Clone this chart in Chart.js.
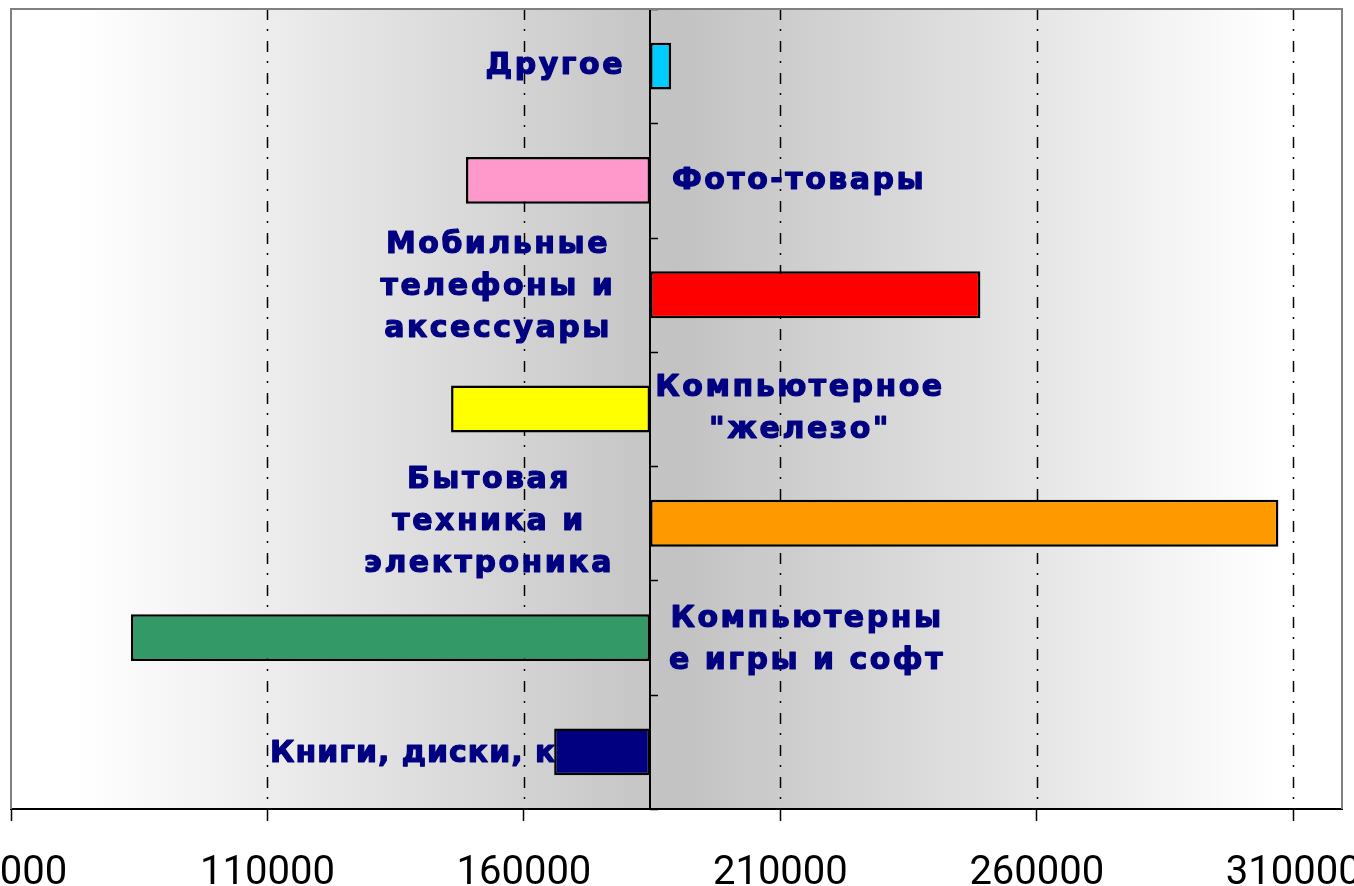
<!DOCTYPE html>
<html>
<head>
<meta charset="utf-8">
<script src="https://cdn.jsdelivr.net/npm/chart.js@4/dist/chart.umd.min.js"></script>
<style>
  html, body { margin: 0; padding: 0; background: #ffffff; overflow: hidden; width: 1354px; height: 886px; }
  #wrap { position: absolute; left: -100px; top: 0; width: 1554px; height: 936px; }
</style>
</head>
<body>
<div id="wrap"><canvas id="c" width="1554" height="936"></canvas></div>
<script>
// ---- data ----
const categories = ['Другое', 'Фото-товары', 'Мобильные телефоны и аксессуары', 'Компьютерное "железо"', 'Бытовая техника и электроника', 'Компьютерные игры и софт', 'Книги, диски, кино'];
const baseValue = 184600;
const values = [188700, 148700, 249000, 145800, 307100, 83400, 165900];
const barColors = ['#00ccff', '#ff99cc', '#ff0000', '#ffff00', '#ff9900', '#339966', '#000080'];
const labelLines = [
  ['Другое'],
  ['Фото-товары'],
  ['Мобильные', 'телефоны и', 'аксессуары'],
  ['Компьютерное', '"железо"'],
  ['Бытовая', 'техника и', 'электроника'],
  ['Компьютерны', 'е игры и софт'],
  ['Книги, диски, кино']
];
const tickValues = [60000, 110000, 160000, 210000, 260000, 310000];
const tickLabels = ['60000', '110000', '160000', '210000', '260000', '310000'];
const axisMin = 60000, axisMax = 319500;

// ---- label placement (layout only) ----
const labelLayout = [
  { align: 'right',  dx: -25,  dy: 0,  ls: 2.5 },
  { align: 'left',   dx: 22,   dy: 1,  ls: 2.5 },
  { align: 'center', dx: -152, dy: -8, ls: 2.5 },
  { align: 'center', dx: 150,  dy: 0,  ls: 2.5 },
  { align: 'center', dx: -161, dy: -1, ls: 2.5 },
  { align: 'center', dx: 157,  dy: 3,  ls: 2.5 },
  { align: 'left',   dx: -380, dy: 2,  ls: 1 }
];

const floating = values.map(v => [baseValue, v]);

const decor = {
  id: 'decor',
  beforeDraw(chart) {
    const { ctx, chartArea: a } = chart;
    const g = ctx.createLinearGradient(a.left, 0, a.right, 0);
    g.addColorStop(0, '#ffffff');
    g.addColorStop(0.05, '#ffffff');
    g.addColorStop(0.2, '#ececec');
    g.addColorStop(0.35, '#d8d8d8');
    g.addColorStop(0.5, '#c2c2c2');
    g.addColorStop(0.65, '#d6d6d6');
    g.addColorStop(0.8, '#eaeaea');
    g.addColorStop(0.95, '#ffffff');
    g.addColorStop(1, '#ffffff');
    ctx.save();
    ctx.fillStyle = g;
    ctx.fillRect(a.left, a.top, a.right - a.left, a.bottom - a.top);
    ctx.restore();
  },
  beforeDatasetsDraw(chart) {
    const { ctx, chartArea: a, scales: { x, y } } = chart;
    ctx.save();
    // vertical dash-dot grid lines
    ctx.strokeStyle = '#000000';
    ctx.lineWidth = 1.5;
    ctx.setLineDash([11, 9, 2, 10]);
    x.ticks.forEach(t => {
      if (t.value <= axisMin) return;
      const px = Math.round(x.getPixelForValue(t.value)) + 0.5;
      ctx.beginPath();
      ctx.moveTo(px, a.top);
      ctx.lineTo(px, a.bottom);
      ctx.stroke();
    });
    ctx.setLineDash([]);
    // category axis at base value
    const bx = Math.round(x.getPixelForValue(baseValue));
    ctx.lineWidth = 2;
    ctx.beginPath();
    ctx.moveTo(bx, a.top);
    ctx.lineTo(bx, a.bottom);
    ctx.stroke();
    const half = (y.getPixelForValue(1) - y.getPixelForValue(0)) / 2;
    ctx.lineWidth = 1.5;
    for (let i = 0; i <= categories.length; i++) {
      const yb = Math.round(y.getPixelForValue(0) - half + i * 2 * half) + 0.5;
      ctx.beginPath();
      ctx.moveTo(bx, yb);
      ctx.lineTo(bx + 8, yb);
      ctx.stroke();
    }
    // category labels (drawn under bars)
    ctx.fillStyle = '#000080';
    ctx.strokeStyle = '#000080';
    ctx.lineWidth = 1.2;
    ctx.lineJoin = 'round';
    ctx.font = 'bold 30px "DejaVu Sans"';
    ctx.textBaseline = 'middle';
    const lh = 42;
    labelLines.forEach((lines, i) => {
      const L = labelLayout[i];
      ctx.letterSpacing = L.ls + 'px';
      const cy = y.getPixelForValue(i) + L.dy;
      const lx = bx + L.dx;
      ctx.textAlign = L.align;
      lines.forEach((ln, k) => {
        const ly = cy + (k - (lines.length - 1) / 2) * lh;
        ctx.fillText(ln, lx, ly);
        ctx.strokeText(ln, lx, ly);
      });
    });
    ctx.restore();
  },
  afterDatasetsDraw(chart) {
    const { ctx, chartArea: a } = chart;
    ctx.save();
    ctx.strokeStyle = '#808080';
    ctx.lineWidth = 2;
    ctx.beginPath();
    ctx.moveTo(a.left, a.bottom);
    ctx.lineTo(a.left, a.top);
    ctx.lineTo(a.right, a.top);
    ctx.lineTo(a.right, a.bottom);
    ctx.stroke();
    ctx.restore();
  }
};

new Chart(document.getElementById('c'), {
  type: 'bar',
  data: {
    labels: categories,
    datasets: [{
      data: floating,
      backgroundColor: barColors,
      borderColor: '#000000',
      borderWidth: 2.5,
      borderSkipped: false,
      barPercentage: 0.41,
      categoryPercentage: 1.0
    }]
  },
  options: {
    indexAxis: 'y',
    responsive: false,
    animation: false,
    devicePixelRatio: 1,
    layout: { padding: { left: 111, right: 112, top: 9, bottom: 9 } },
    plugins: { legend: { display: false }, tooltip: { enabled: false } },
    scales: {
      x: {
        type: 'linear',
        min: axisMin,
        max: axisMax,
        afterBuildTicks: s => { s.ticks = tickValues.map(v => ({ value: v })); },
        grid: { drawOnChartArea: false, drawTicks: true, tickLength: 12, tickColor: '#000000', tickWidth: 1.5 },
        border: { display: true, color: '#000000', width: 2 },
        ticks: {
          autoSkip: false, maxRotation: 0, minRotation: 0, padding: 29,
          color: '#000000', font: { family: 'Roboto', size: 40 },
          callback: (v, i) => tickLabels[i]
        }
      },
      y: { type: 'category', display: false, offset: true, grid: { offset: true } }
    }
  },
  plugins: [decor]
});
</script>
</body>
</html>
